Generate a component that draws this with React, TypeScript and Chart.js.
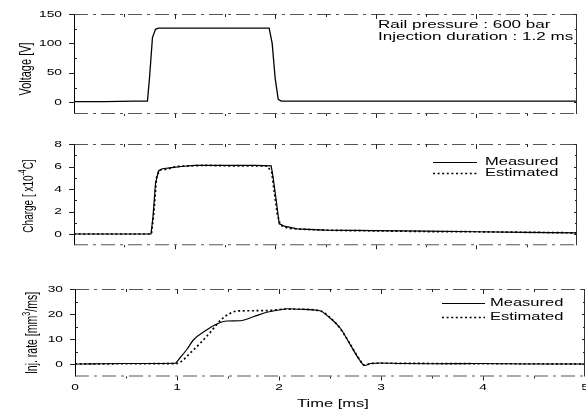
import React, { useEffect, useRef } from 'react';
import { Chart, registerables } from 'chart.js';

Chart.register(...registerables);

// ---------- data ----------
const xTicks = [0, 1, 2, 3, 4, 5];
const voltageTicks = [0, 50, 100, 150];
const chargeTicks = [0, 2, 4, 6, 8];
const rateTicks = [0, 10, 20, 30];

const voltageTime = [0, 0.3, 0.6, 0.73, 0.75, 0.78, 0.81, 0.84, 1.2, 1.6, 1.94, 1.97, 2.0, 2.03, 2.06, 2.5, 3, 4, 5];
const voltageValues = [1, 1, 2, 2, 40, 110, 124, 126, 126, 126, 126, 100, 40, 5, 2, 2, 2, 2, 2];

const chargeMeasuredTime = [0, 0.5, 0.765, 0.785, 0.81, 0.84, 0.88, 0.97, 1.07, 1.2, 1.5, 1.8, 1.96, 1.98, 2.01, 2.04, 2.09, 2.22, 2.5, 3, 3.5, 4, 4.5, 5];
const chargeMeasuredValues = [0, 0, 0, 1.5, 4.5, 5.6, 5.8, 5.9, 6.0, 6.1, 6.1, 6.1, 6.05, 5.0, 3.0, 0.9, 0.7, 0.45, 0.35, 0.3, 0.25, 0.2, 0.15, 0.1];
const chargeEstimatedTime = [0, 0.5, 0.77, 0.795, 0.82, 0.85, 0.92, 1.02, 1.12, 1.3, 1.6, 1.92, 1.965, 1.99, 2.02, 2.05, 2.13, 2.32, 2.6, 3, 3.5, 4, 4.5, 5];
const chargeEstimatedValues = [0, 0, 0, 2.0, 5.0, 5.7, 5.75, 6.0, 6.05, 6.1, 6.05, 6.05, 5.5, 3.8, 1.8, 0.8, 0.5, 0.4, 0.32, 0.28, 0.22, 0.2, 0.15, 0.1];

const rateMeasuredTime = [0, 0.5, 0.98, 1.03, 1.1, 1.16, 1.29, 1.39, 1.49, 1.62, 1.75, 1.88, 2.0, 2.08, 2.2, 2.4, 2.5, 2.6, 2.7, 2.79, 2.84, 2.9, 3.0, 3.2, 3.5, 4, 4.5, 5];
const rateMeasuredValues = [0, 0.2, 0.3, 2.5, 6, 9.6, 13.6, 16, 17.2, 17.3, 18.9, 20.7, 21.6, 22.1, 21.9, 21.3, 18.4, 14.4, 7.6, 1.6, -0.6, 0.2, 0.4, 0.2, 0.1, 0.2, 0, 0];
const rateEstimatedTime = [0, 0.5, 1.0, 1.06, 1.13, 1.23, 1.32, 1.44, 1.51, 1.59, 1.7, 1.9, 2.05, 2.2, 2.4, 2.5, 2.6, 2.7, 2.79, 2.84, 2.9, 3.0, 3.5, 4, 4.5, 5];
const rateEstimatedValues = [0, 0.1, 0.2, 1.6, 4.4, 8.4, 12.4, 18, 20, 21.2, 21.3, 21.4, 21.9, 21.9, 21.3, 18.6, 14.2, 7.8, 1.8, -0.5, 0.2, 0.3, 0.2, 0.1, 0.1, 0];

const seriesLabels = ['Measured', 'Estimated'];
const annotationLines = ['Rail pressure : 600 bar', 'Injection duration : 1.2 ms'];
// axis titles as text parts; sup = superscript
const voltageTitle = [{ t: 'Voltage [V]' }];
const chargeTitle = [{ t: 'Charge [ x10' }, { t: '-4', sup: true }, { t: 'C]' }];
const rateTitle = [{ t: 'Inj. rate [mm' }, { t: '3', sup: true }, { t: '/ms]' }];
const xTitle = 'Time [ms]';

// ---------- helpers ----------
const FONT = "'Liberation Sans', Arial, 'DejaVu Sans', sans-serif";
const DASH_EST = [2, 2.6];

function pts(xs: number[], ys: number[]) {
  return xs.map((x, i) => ({ x, y: ys[i] }));
}

function drawText(ctx: CanvasRenderingContext2D, text: string, x: number, y: number, size: number, align: CanvasTextAlign, sx: number) {
  ctx.save();
  ctx.translate(x, y);
  ctx.scale(sx, 1);
  ctx.font = `${size}px ${FONT}`;
  ctx.textAlign = align;
  ctx.textBaseline = 'middle';
  ctx.fillStyle = '#000';
  ctx.fillText(text, 0, 0);
  ctx.restore();
}

function drawRotatedParts(ctx: CanvasRenderingContext2D, parts: { t: string; sup?: boolean }[], x: number, y: number, size: number, sx: number) {
  ctx.save();
  ctx.translate(x, y);
  ctx.rotate(-Math.PI / 2);
  ctx.scale(1, sx);
  ctx.textBaseline = 'middle';
  ctx.textAlign = 'left';
  ctx.fillStyle = '#000';
  const fontFor = (p: any) => `${p.sup ? size * 0.68 : size}px ${FONT}`;
  let total = 0;
  parts.forEach((p) => { ctx.font = fontFor(p); total += ctx.measureText(p.t).width; });
  let cx = -total / 2;
  parts.forEach((p) => {
    ctx.font = fontFor(p);
    ctx.fillText(p.t, cx, p.sup ? -size * 0.38 : 0);
    cx += ctx.measureText(p.t).width;
  });
  ctx.restore();
}

function line(ctx: CanvasRenderingContext2D, x1: number, y1: number, x2: number, y2: number) {
  ctx.beginPath();
  ctx.moveTo(x1, y1);
  ctx.lineTo(x2, y2);
  ctx.stroke();
}

const framePlugin = {
  id: 'scanFrame',
  afterDraw(chart: any, _args: any, opts: any) {
    const ctx: CanvasRenderingContext2D = chart.ctx;
    const { left, right, top, bottom } = chart.chartArea;
    const xs = chart.scales.x;
    const ys = chart.scales.y;
    ctx.save();
    ctx.lineWidth = 1;
    ctx.strokeStyle = '#000';
    line(ctx, left + 0.5, top, left + 0.5, bottom);
    ctx.strokeStyle = '#333';
    line(ctx, right - 0.5, top, right - 0.5, bottom);
    ctx.strokeStyle = '#555';
    ctx.setLineDash([14, 5, 3, 5]);
    line(ctx, left, top + 0.5, right, top + 0.5);
    line(ctx, left, bottom - 0.5, right, bottom - 0.5);
    ctx.setLineDash([]);
    ctx.strokeStyle = '#222';
    const yv: number[] = ys.ticks.map((t: any) => t.value);
    yv.forEach((v: number) => {
      const p = Math.round(ys.getPixelForValue(v)) + 0.5;
      line(ctx, left - 5, p, left + 1, p);
      line(ctx, right - 3, p, right, p);
    });
    for (let i = 0; i < yv.length - 1; i++) {
      const p = Math.round(ys.getPixelForValue((yv[i] + yv[i + 1]) / 2)) + 0.5;
      line(ctx, left, p, left + 3, p);
      line(ctx, right - 2, p, right, p);
    }
    const xv: number[] = xs.ticks.map((t: any) => t.value);
    const allX: { v: number; major: boolean }[] = [];
    xv.forEach((v, i) => {
      allX.push({ v, major: true });
      if (i < xv.length - 1) allX.push({ v: (v + xv[i + 1]) / 2, major: false });
    });
    allX.forEach(({ v, major }) => {
      const p = Math.round(xs.getPixelForValue(v)) + 0.5;
      if (p <= left + 1 || p >= right - 1) return;
      const len = major ? 5 : 3;
      line(ctx, p, top, p, top + len);
      line(ctx, p, bottom, p, bottom + len - 1);
    });
    ctx.restore();

    yv.forEach((v: number) => {
      drawText(ctx, String(v), left - 12, ys.getPixelForValue(v), 9.5, 'right', 1.45);
    });
    if (opts.xLabels) {
      xv.forEach((v: number) => {
        drawText(ctx, String(v), xs.getPixelForValue(v), bottom + 11, 9.5, 'center', 1.45);
      });
    }
    drawRotatedParts(ctx, opts.yTitle, opts.yTitleX, opts.yTitleY, opts.yTitleSize, 1.5);
    if (opts.xTitle) {
      drawText(ctx, opts.xTitle, opts.xTitleX, opts.xTitleY, 11, 'center', 1.5);
    }
    if (opts.annotation) {
      opts.annotation.lines.forEach((t: string, i: number) => {
        drawText(ctx, t, opts.annotation.x, opts.annotation.y + i * 12, 11, 'left', 1.55);
      });
    }
    if (opts.legend) {
      const L = opts.legend;
      chart.data.datasets.forEach((ds: any, i: number) => {
        const y = L.y[i];
        ctx.save();
        ctx.strokeStyle = '#000';
        ctx.lineWidth = ds.borderWidth;
        ctx.setLineDash(ds.borderDash || []);
        line(ctx, L.x0, y + 0.5, L.x1, y + 0.5);
        ctx.restore();
        drawText(ctx, ds.label, L.tx, y, 11, 'left', 1.5);
      });
    }
  },
};

function makeConfig(datasets: any[], yMin: number, yMax: number, yTickVals: number[], padTop: number, padRight: number, yWidth: number, xHeight: number, frame: any) {
  return {
    type: 'line',
    data: { datasets },
    options: {
      animation: false,
      responsive: false,
      devicePixelRatio: 1,
      layout: { padding: { left: 0, right: padRight, top: padTop, bottom: 0 } },
      elements: { point: { radius: 0 } },
      plugins: { legend: { display: false }, tooltip: { enabled: false }, scanFrame: frame },
      scales: {
        x: {
          type: 'linear', min: 0, max: 5,
          grid: { display: false }, border: { display: false }, ticks: { display: false },
          afterBuildTicks: (s: any) => { s.ticks = xTicks.map((v) => ({ value: v })); },
          afterFit: (s: any) => { s.height = xHeight; s.paddingLeft = 0; s.paddingRight = 0; },
        },
        y: {
          type: 'linear', min: yMin, max: yMax,
          grid: { display: false }, border: { display: false }, ticks: { display: false },
          afterBuildTicks: (s: any) => { s.ticks = yTickVals.map((v) => ({ value: v })); },
          afterFit: (s: any) => { s.width = yWidth; s.paddingTop = 0; s.paddingBottom = 0; },
        },
      },
    },
    plugins: [framePlugin],
  };
}

const solid = (label: string, data: any[], w = 1.2, extra: any = {}) => ({
  label, data, borderColor: '#000', borderWidth: w, pointRadius: 0, fill: false, tension: 0, ...extra,
});
const dotted = (label: string, data: any[], extra: any = {}) => ({
  label, data, borderColor: '#000', borderWidth: 1.7, borderDash: DASH_EST, pointRadius: 0, fill: false, tension: 0, ...extra,
});

export default function App() {
  const r1 = useRef<HTMLCanvasElement>(null);
  const r2 = useRef<HTMLCanvasElement>(null);
  const r3 = useRef<HTMLCanvasElement>(null);

  useEffect(() => {
    const c1 = new Chart(r1.current as any, makeConfig(
      [solid('Voltage', pts(voltageTime, voltageValues), 1.3)],
      -20, 150, voltageTicks, 14, 9, 74, 16,
      { yTitle: voltageTitle, yTitleX: 26, yTitleY: 69, yTitleSize: 11, annotation: { lines: annotationLines, x: 378, y: 25 } },
    ) as any);
    const c2 = new Chart(r2.current as any, makeConfig(
      [solid(seriesLabels[0], pts(chargeMeasuredTime, chargeMeasuredValues)), dotted(seriesLabels[1], pts(chargeEstimatedTime, chargeEstimatedValues))],
      -1, 8, chargeTicks, 14, 9, 74, 14.75,
      { yTitle: chargeTitle, yTitleX: 29, yTitleY: 66, yTitleSize: 10, legend: { x0: 433, x1: 477, tx: 485, y: [32, 43] } },
    ) as any);
    const c3 = new Chart(r3.current as any, makeConfig(
      [
        solid(seriesLabels[0], pts(rateMeasuredTime, rateMeasuredValues), 1.2, { cubicInterpolationMode: 'monotone' }),
        dotted(seriesLabels[1], pts(rateEstimatedTime, rateEstimatedValues), { cubicInterpolationMode: 'monotone' }),
      ],
      -5, 30, rateTicks, 29, 1, 75, 33.5,
      { yTitle: rateTitle, yTitleX: 33, yTitleY: 73, yTitleSize: 10.5, xLabels: true, xTitle, xTitleX: 333, xTitleY: 144, legend: { x0: 442, x1: 485, tx: 490, y: [43, 57] } },
    ) as any);
    return () => { c1.destroy(); c2.destroy(); c3.destroy(); };
  }, []);

  const cs = (top: number, h: number): React.CSSProperties => ({ position: 'absolute', left: 0, top, width: 586, height: h });
  return (
    <div style={{ position: 'fixed', left: 0, top: 0, width: 586, height: 410, background: '#fff' }}>
      <canvas ref={r1} width={586} height={130} style={cs(0, 130)} />
      <canvas ref={r2} width={586} height={130} style={cs(130, 130)} />
      <canvas ref={r3} width={586} height={150} style={cs(260, 150)} />
    </div>
  );
}
